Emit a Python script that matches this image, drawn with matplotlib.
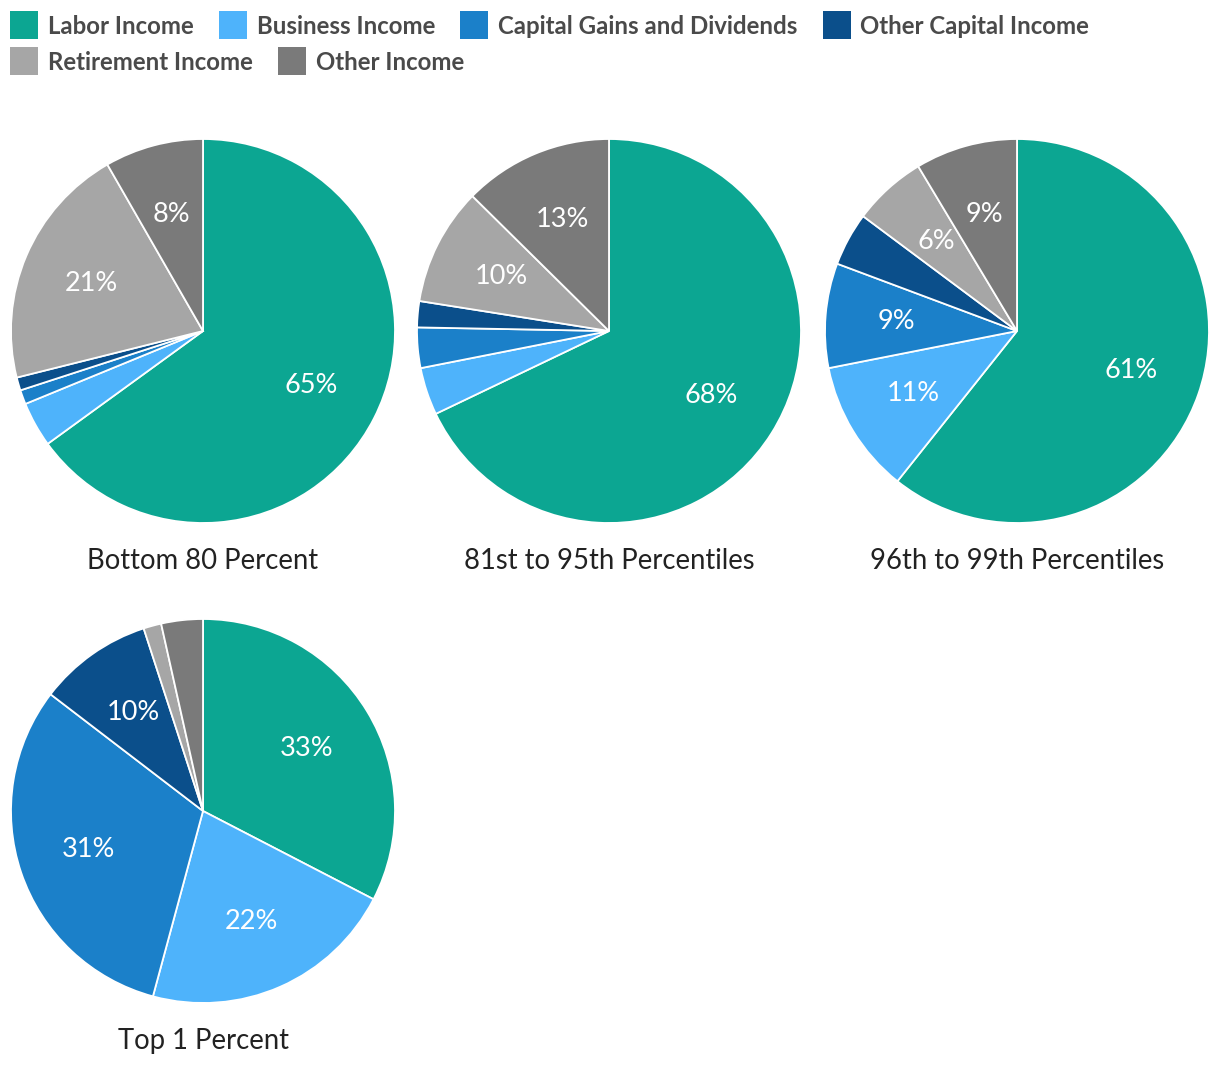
import matplotlib
matplotlib.use("Agg")
import matplotlib.pyplot as plt
from matplotlib.patches import Rectangle

plt.rcParams['font.family'] = ['Lato', 'DejaVu Sans']

# categories and colours
categories = ["Labor Income", "Business Income", "Capital Gains and Dividends",
              "Other Capital Income", "Retirement Income", "Other Income"]
colors = ["#0ca692", "#4eb3fb", "#1b80c9", "#0b4f8b", "#a6a6a6", "#7a7a7a"]

# income shares (percent) per group
bottom_80 = [65.0, 3.8, 1.2, 1.1, 20.6, 8.3]
pct_81_95 = [67.9, 4.0, 3.4, 2.2, 9.9, 12.6]
pct_96_99 = [60.7, 11.2, 8.8, 4.5, 6.2, 8.6]
top_1 = [32.6, 21.6, 31.2, 9.6, 1.5, 3.5]

groups = ["Bottom 80 Percent", "81st to 95th Percentiles",
          "96th to 99th Percentiles", "Top 1 Percent"]
shares = [bottom_80, pct_81_95, pct_96_99, top_1]

W, H = 1220, 1088
fig = plt.figure(figsize=(W / 100, H / 100), dpi=100)

# pie centres in pixels (from top-left) and radius
centres = [(203, 331), (609, 331), (1017, 331), (203, 811)]
R = 192


def pct_label(p):
    return f"{p:.0f}%" if p >= 5 else ""


for (cx, cy), name, vals in zip(centres, groups, shares):
    ax = fig.add_axes([(cx - R) / W, (H - cy - R) / H, 2 * R / W, 2 * R / H])
    ax.pie(vals, colors=colors, startangle=90, counterclock=False,
           autopct=pct_label, pctdistance=0.63,
           wedgeprops=dict(edgecolor="white", linewidth=1.3),
           textprops=dict(color="white", fontsize=19.5))
    ax.set_xlim(-1, 1)
    ax.set_ylim(-1, 1)
    ax.set_aspect("equal")
    ax.axis("off")
    fig.text(cx / W, 1 - (cy + 230) / H, name, ha="center", va="center",
             fontsize=19.8, color="#222222")

# legend drawn by hand
rows = [categories[:4], categories[4:]]
row_y = [25, 61]
sq = 28
fig.canvas.draw()
renderer = fig.canvas.get_renderer()
idx = 0
for labels, y in zip(rows, row_y):
    x = 10
    for lab in labels:
        fig.patches.append(Rectangle((x / W, 1 - (y + sq / 2) / H), sq / W, sq / H,
                                     transform=fig.transFigure, facecolor=colors[idx],
                                     edgecolor="none"))
        t = fig.text((x + sq + 10) / W, 1 - (y + 2) / H, lab, ha="left", va="center",
                     fontsize=17.3, fontweight="bold", color="#4a4a4a")
        bb = t.get_window_extent(renderer)
        x = bb.x1 + 25
        idx += 1

fig.savefig("out.png", dpi=100)
